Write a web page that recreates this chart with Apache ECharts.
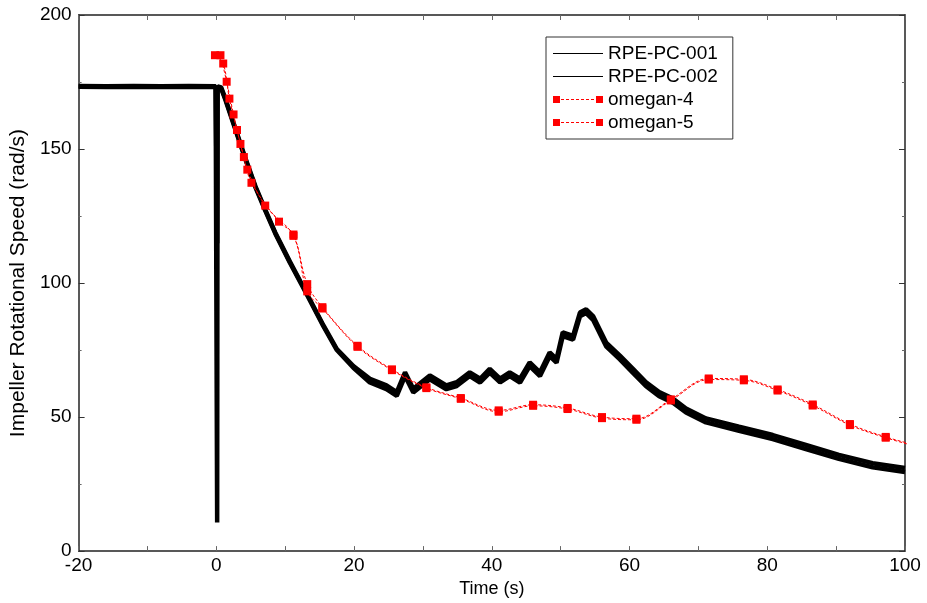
<!DOCTYPE html>
<html>
<head>
<meta charset="utf-8">
<title>Impeller Rotational Speed</title>
<script src="https://cdn.jsdelivr.net/npm/echarts@6/dist/echarts.min.js"></script>
<style>
    html, body { margin: 0; padding: 0; background: #fff; }
    #chart-container { width: 927px; height: 603px; }
</style>
</head>
<body>
<div id="chart-container"></div>
<script>
// measured curves (time in s, speed in rad/s)
var rpeTime = [-20, -16, -12, -8, -4, -0.1, 0.12, 0.18, 0.3, 0.7,
    1.3, 2.75, 4.2, 5.65, 7.1, 8.55, 10.7, 13.1, 15.6, 17.5, 19.9,
    22.3, 24.7, 26.2, 27.4, 28.6, 31.0, 33.4, 34.9, 36.8, 38.3,
    39.7, 41.2, 42.6, 44.1, 45.5, 47.0, 48.4, 49.4, 50.3, 51.8,
    52.8, 53.7, 54.7, 56.6, 58.6, 60.5, 62.4, 64.3, 66.3, 68.2,
    71.1, 75.9, 80.8, 85.6, 90.4, 95.3, 100];
var rpe001 = [173.5, 173.4, 173.5, 173.4, 173.5, 173.4, 10.7, 173.4, 173.5, 173.0,
    168.9, 157.8, 146.7, 136.3, 127.4, 118.9, 107.9, 96.3, 84.0, 75.4, 69.0,
    64.3, 61.8, 59.3, 66.7, 60.6, 65.5, 61.8, 63.0, 66.7, 64.3,
    68.0, 64.3, 66.7, 64.3, 70.4, 66.7, 74.1, 71.7, 81.6, 80.3,
    89.0, 90.2, 87.7, 77.8, 72.9, 68.0, 63.0, 59.3, 56.9, 53.2,
    49.5, 46.4, 43.3, 39.6, 35.9, 32.8, 31.0];
var rpe002 = [173.2, 173.1, 173.2, 173.1, 173.2, 173.1, 114.8, 173.0, 173.1, 172.6,
    168.5, 157.4, 146.3, 135.9, 127.0, 118.5, 107.5, 95.9, 83.6, 75.0, 68.4,
    62.9, 60.4, 57.9, 65.3, 59.2, 64.1, 60.4, 61.6, 65.3, 62.9,
    66.6, 62.9, 65.3, 62.9, 69.0, 65.3, 72.7, 70.3, 80.2, 78.9,
    87.6, 88.8, 86.3, 76.4, 71.5, 66.5, 61.5, 57.8, 55.4, 51.7,
    48.0, 44.9, 41.8, 38.1, 34.4, 31.3, 29.5];

// simulation results
var omegan4Time = [-0.2, 1.0, 1.9, 3.0, 4.0, 5.1, 9.1, 11.2, 13.2, 15.4, 20.5, 25.5, 30.5,
    35.5, 41.0, 46.0, 51.0, 56.0, 61.0, 66.0, 71.5, 76.6, 81.5, 86.6, 92.0, 97.2, 102.3];
var omegan4 = [185.0, 181.9, 168.8, 157.1, 147.0, 137.4, 122.9, 118.1, 99.6, 91.0, 76.6, 67.8, 61.1,
    57.1, 52.5, 54.6, 53.4, 50.0, 49.4, 56.6, 64.4, 64.1, 60.3, 54.7, 47.4, 42.6, 39.0];
var omegan5Time = [0.6, 1.5, 2.5, 3.5, 4.5, 7.1, 11.2, 13.2, 15.4, 20.5, 25.5, 30.5,
    35.5, 41.0, 46.0, 51.0, 56.0, 61.0, 66.0, 71.5, 76.6, 81.5, 86.6, 92.0, 97.2, 102.3];
var omegan5 = [185.0, 175.1, 162.9, 151.9, 142.3, 128.9, 117.6, 96.9, 90.5, 76.2, 67.5, 60.8,
    56.8, 52.0, 54.2, 53.0, 49.6, 49.0, 56.2, 64.0, 63.7, 59.9, 54.3, 47.0, 42.3, 38.6];

var xTicks = { min: -20, max: 100, step: 20 };
var yTicks = { min: 0, max: 200, step: 50 };

var FONT = 'Liberation Sans, Arial, sans-serif';

// legend icons
var lineIcon = 'path://M0,0M50,10M0,4.5h50v1h-50z';
var markIcon = 'path://M0,0M50,10M0,1.5h7v7h-7zM43,1.5h7v7h-7z' +
    'M8,4.5h3v1h-3zM13,4.5h3v1h-3zM18,4.5h3v1h-3zM23,4.5h3v1h-3z' +
    'M28,4.5h3v1h-3zM33,4.5h3v1h-3zM38,4.5h3v1h-3z';

function zip(xs, ys) {
    var out = [];
    for (var i = 0; i < xs.length; i++) {
        out.push([xs[i], ys[i]]);
    }
    return out;
}

function xAxisOpt(pos, showLabel) {
    return {
        type: 'value',
        position: pos,
        min: xTicks.min,
        max: xTicks.max,
        interval: xTicks.step,
        axisLine: { show: true, onZero: false, lineStyle: { color: '#222', width: 1.5 } },
        axisTick: { show: true, inside: true, length: 5, lineStyle: { color: '#666' } },
        minorTick: { show: true, splitNumber: 2, length: 5, lineStyle: { color: '#666' } },
        splitLine: { show: false },
        axisLabel: { show: showLabel, color: '#000', fontSize: 19, fontFamily: FONT, margin: 5 },
        name: showLabel ? 'Time (s)' : '',
        nameLocation: 'middle',
        nameGap: 28,
        nameTextStyle: { color: '#000', fontSize: 18, fontFamily: FONT }
    };
}

function yAxisOpt(pos, showLabel) {
    return {
        type: 'value',
        position: pos,
        min: yTicks.min,
        max: yTicks.max,
        interval: yTicks.step,
        axisLine: { show: true, onZero: false, lineStyle: { color: '#222', width: 1.5 } },
        axisTick: { show: true, inside: true, length: 6, lineStyle: { color: '#333' } },
        minorTick: { show: true, splitNumber: 2, length: 3, lineStyle: { color: '#666' } },
        splitLine: { show: false },
        axisLabel: { show: showLabel, color: '#000', fontSize: 19, fontFamily: FONT, margin: 7 },
        name: showLabel ? 'Impeller Rotational Speed (rad/s)' : '',
        nameLocation: 'middle',
        nameGap: 48,
        nameTextStyle: { color: '#000', fontSize: 21, fontFamily: FONT }
    };
}

var option = {
    backgroundColor: '#fff',
    animation: false,
    grid: { left: 78, right: 22, top: 15, bottom: 48 },
    legend: {
        orient: 'vertical',
        left: 546,
        top: 37,
        padding: [7, 15, 7, 7],
        borderColor: '#333',
        borderWidth: 1,
        itemWidth: 50,
        itemHeight: 10,
        itemGap: 4,
        textStyle: { color: '#000', fontSize: 19, fontFamily: FONT },
        data: [
            { name: 'RPE-PC-001', icon: lineIcon },
            { name: 'RPE-PC-002', icon: lineIcon },
            { name: 'omegan-4', icon: markIcon },
            { name: 'omegan-5', icon: markIcon }
        ]
    },
    xAxis: [xAxisOpt('bottom', true), xAxisOpt('top', false)],
    yAxis: [yAxisOpt('left', true), yAxisOpt('right', false)],
    series: [
        {
            name: 'RPE-PC-001', type: 'line', data: zip(rpeTime, rpe001),
            symbol: 'none', color: '#000',
            lineStyle: { color: '#000', width: 4.5 }, z: 2
        },
        {
            name: 'RPE-PC-002', type: 'line', data: zip(rpeTime, rpe002),
            symbol: 'none', color: '#000',
            lineStyle: { color: '#000', width: 4.5 }, z: 2
        },
        {
            name: 'omegan-4', type: 'line', data: zip(omegan4Time, omegan4),
            smooth: 0.35, symbol: 'rect', symbolSize: 8, color: '#f00',
            itemStyle: { color: '#f00' },
            lineStyle: { color: '#f00', width: 1, type: [3, 2] }, z: 3
        },
        {
            name: 'omegan-5', type: 'line', data: zip(omegan5Time, omegan5),
            smooth: 0.35, symbol: 'rect', symbolSize: 8, color: '#f00',
            itemStyle: { color: '#f00' },
            lineStyle: { color: '#f00', width: 1, type: [3, 2] }, z: 3
        }
    ]
};

var myChart = echarts.init(document.getElementById('chart-container'));
myChart.setOption(option);
</script>
</body>
</html>
